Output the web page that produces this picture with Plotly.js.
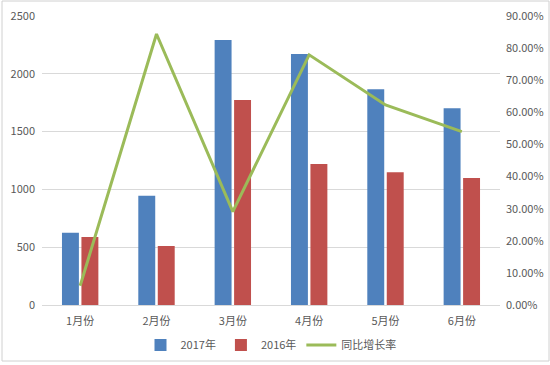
<!DOCTYPE html>
<html>
<head>
<meta charset="utf-8">
<script src="https://cdn.plot.ly/plotly-3.0.1.min.js"></script>
<style>html,body{margin:0;padding:0;background:#fff;}#chart{width:550px;height:365px;}</style>
</head>
<body>
<div id="chart"></div>
<script>
const months = ['1月份', '2月份', '3月份', '4月份', '5月份', '6月份'];
const sales2017 = [625, 945, 2292, 2171, 1866, 1701];
const sales2016 = [588, 510, 1773, 1220, 1148, 1099];
const growthRate = [0.060, 0.844, 0.291, 0.779, 0.623, 0.540];
const seriesNames = ['2017年', '2016年', '同比增长率'];

const font = 'Noto Sans CJK SC, Microsoft YaHei, sans-serif';
const traces = [
  {type: 'bar', name: seriesNames[0], x: months, y: sales2017, marker: {color: '#4F81BD'}, yaxis: 'y'},
  {type: 'bar', name: seriesNames[1], x: months, y: sales2016, marker: {color: '#C0504D'}, yaxis: 'y'},
  {type: 'scatter', mode: 'lines', name: seriesNames[2], x: months, y: growthRate,
   line: {color: '#9BBB59', width: 3}, yaxis: 'y2'}
];

const layout = {
  width: 550, height: 365,
  margin: {l: 42, r: 50, t: 16, b: 60, autoexpand: false},
  paper_bgcolor: '#fff', plot_bgcolor: '#fff',
  font: {family: font, size: 11, color: '#595959'},
  barmode: 'group', bargap: 0.49, bargroupgap: 0.13,
  showlegend: true,
  legend: {orientation: 'h', x: 0.5, xanchor: 'center', yref: 'container', y: 0.055, yanchor: 'middle',
           font: {size: 11, color: '#595959'}, traceorder: 'normal', itemwidth: 30},
  xaxis: {showgrid: false, showline: true, linecolor: '#d9d9d9', linewidth: 1, automargin: false,
          ticks: '', ticklabelstandoff: 6, tickfont: {size: 11, color: '#595959'}},
  yaxis: {range: [0, 2500], dtick: 500, showgrid: true, gridcolor: '#d9d9d9', gridwidth: 1, automargin: false,
          zeroline: false, showline: false, ticks: '', ticklabelstandoff: 6, tickfont: {size: 11, color: '#595959'}},
  yaxis2: {range: [0, 0.9], dtick: 0.1, tickformat: '.2%', overlaying: 'y', side: 'right', automargin: false,
           showgrid: false, zeroline: false, showline: false, ticks: '', ticklabelstandoff: 5,
           tickfont: {size: 11, color: '#595959'}},
  shapes: [
    {type: 'rect', xref: 'paper', yref: 'paper',
     x0: (2 - 42) / 458, x1: (549 - 42) / 458, y0: (305 - 361) / 289, y1: (305 - 1) / 289,
     line: {color: '#d0d0d0', width: 1}, layer: 'below'}
  ]
};

Plotly.newPlot('chart', traces, layout, {displayModeBar: false, staticPlot: true});
</script>
</body>
</html>
